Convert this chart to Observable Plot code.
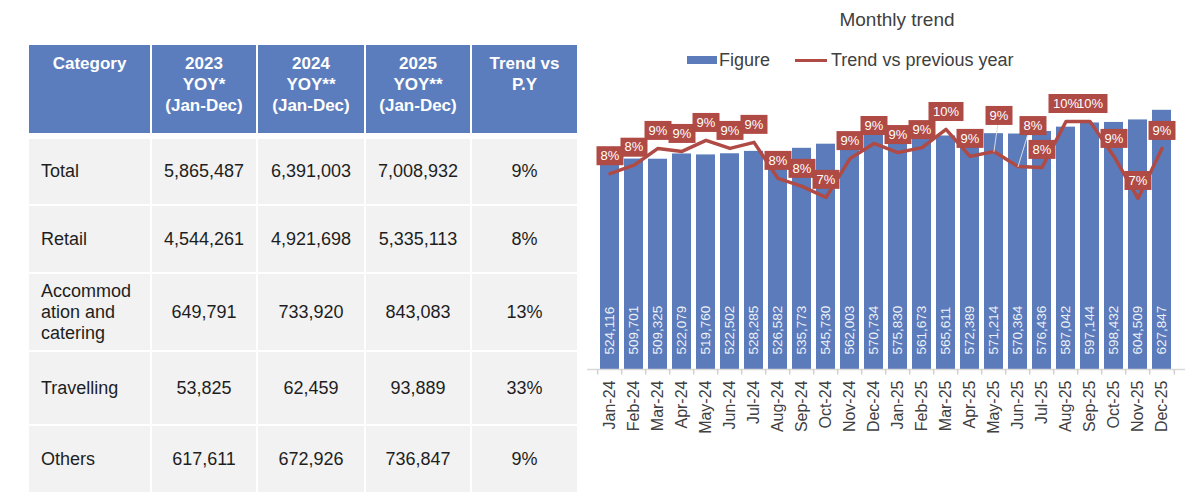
<!DOCTYPE html>
<html><head><meta charset="utf-8">
<script src="https://cdn.jsdelivr.net/npm/d3@7"></script>
<script src="https://cdn.jsdelivr.net/npm/@observablehq/plot@0.6"></script>
<style>
body{margin:0;width:1200px;height:496px;position:relative;background:#fff;font-family:"Liberation Sans",Arial,sans-serif;overflow:hidden}
#table{position:absolute;left:29px;top:45px}
.hdr,.bdy{display:grid;grid-template-columns:121px 104px 106px 104px 105px;column-gap:2px}
.hdr{height:88px}
.hdr div{background:#5b7dbd;color:#fff;font-weight:bold;font-size:17px;line-height:21px;text-align:center;padding-top:8px;box-sizing:border-box}
.bdy{margin-top:6px;row-gap:2px;grid-template-rows:65px 66px 76px 72px 66px}
.bdy div{background:#f2f2f2;display:flex;align-items:center;justify-content:center;font-size:18px;color:#1e1e1e}
.bdy div.cat{justify-content:flex-start;padding:0 12px;box-sizing:border-box}
.bdy div.cat span{display:block;width:100%;line-height:21px;overflow-wrap:anywhere}
#title{position:absolute;top:9px;left:897px;transform:translateX(-50%);font-size:19px;color:#404040;white-space:nowrap}
#legend{position:absolute;top:49px;left:687px;display:flex;align-items:center;font-size:18px;color:#404040;white-space:nowrap;height:22px}
#legend .sw{display:inline-block;width:30px;height:8px;background:#5b7bbb;margin-right:2px}
#legend .ln{display:inline-block;width:32px;height:3px;background:#b04a45;margin-left:25px;margin-right:4px}
#chart{position:absolute;left:580px;top:70px}
</style></head>
<body>
<div id="table"></div>
<div id="title">Monthly trend</div>
<div id="legend"><span class="sw"></span><span>Figure</span><span class="ln"></span><span>Trend vs previous year</span></div>
<div id="chart"></div>
<script>
// ---- Table data ----
const headers = ["Category", "2023<br>YOY*<br>(Jan-Dec)", "2024<br>YOY**<br>(Jan-Dec)", "2025<br>YOY**<br>(Jan-Dec)", "Trend vs<br>P.Y"];
const categories = ["Total", "Retail", "Accommodation and catering", "Travelling", "Others"];
const yoy2023 = [5865487, 4544261, 649791, 53825, 617611];
const yoy2024 = [6391003, 4921698, 733920, 62459, 672926];
const yoy2025 = [7008932, 5335113, 843083, 93889, 736847];
const trendVsPY = [9, 8, 13, 33, 9];

// ---- Chart data ----
const months = ["Jan-24","Feb-24","Mar-24","Apr-24","May-24","Jun-24","Jul-24","Aug-24","Sep-24","Oct-24","Nov-24","Dec-24",
                "Jan-25","Feb-25","Mar-25","Apr-25","May-25","Jun-25","Jul-25","Aug-25","Sep-25","Oct-25","Nov-25","Dec-25"];
const figures = [524116,509701,509325,522079,519760,522502,528285,526582,535773,545730,562003,570734,
                 575830,561673,565611,572389,571214,570364,576436,587042,597144,598432,604509,627847];
const trendPct = [8.11,8.42,9.03,8.92,9.32,9.03,9.25,7.94,7.65,7.25,8.66,9.21,
                  8.88,9.06,9.72,8.74,8.92,8.37,8.34,10.01,10.01,8.74,7.21,9.03];

// ---- Build table ----
const fmt = d3.format(",");
const tbl = document.getElementById("table");
const hdr = document.createElement("div"); hdr.className = "hdr";
headers.forEach(h => { const c = document.createElement("div"); c.innerHTML = h; hdr.appendChild(c); });
tbl.appendChild(hdr);
const bdy = document.createElement("div"); bdy.className = "bdy";
categories.forEach((cat, i) => {
  const c0 = document.createElement("div"); c0.className = "cat";
  const sp = document.createElement("span"); sp.textContent = cat; c0.appendChild(sp); bdy.appendChild(c0);
  [fmt(yoy2023[i]), fmt(yoy2024[i]), fmt(yoy2025[i]), trendVsPY[i] + "%"].forEach(t => {
    const c = document.createElement("div"); c.textContent = t; bdy.appendChild(c);
  });
});
tbl.appendChild(bdy);

// ---- Chart ----
const yMax = 700000;
const secLo = 0.99, secHi = 11.5; // secondary axis domain (percent)
const toU = v => (v - secLo) / (secHi - secLo) * yMax;
const bars = months.map((m, i) => ({month: m, value: figures[i]}));
const trend = months.map((m, i) => ({month: m, u: toU(trendPct[i]), label: Math.round(trendPct[i]) + "%"}));
const special = {"May-25": {dx: 5, dy: -36, len: 28, rot: 8}, "Jun-25": {dx: 15, dy: -41, len: 34, rot: 17}};
const normal = trend.filter(d => !special[d.month]);
const boxSym = w => ({draw(ctx) { ctx.rect(-w / 2, -9.5, w, 19); }});
const tickSym = {draw(ctx) { ctx.moveTo(0, 0); ctx.lineTo(0, 5); }};
const half = 12.35;
const red = "#b04a45";

function labelMarks(data, dx, dy) {
  return [
    Plot.dot(data.filter(d => d.label.length < 3), {x: "month", y: "u", symbol: boxSym(27), fill: red, dx, dy}),
    Plot.dot(data.filter(d => d.label.length >= 3), {x: "month", y: "u", symbol: boxSym(35), fill: red, dx, dy}),
    Plot.text(data, {x: "month", y: "u", text: "label", fill: "white", fontSize: 13, dx, dy})
  ];
}

const marks = [
  Plot.barY(bars, {x: "month", y: "value", fill: "#5b7bbb"}),
  Plot.text(bars, {x: "month", y: 0, text: d => fmt(d.value), rotate: -90, textAnchor: "start", dy: -15, fill: "#eef2f8", fontSize: 13.5}),
  Plot.ruleY([0], {stroke: "#d9d9d9", strokeWidth: 1.5}),
  Plot.dot(months, {x: d => d, y: 0, symbol: tickSym, stroke: "#d0d0d0", dx: -half}),
  Plot.dot(months.slice(-1), {x: d => d, y: 0, symbol: tickSym, stroke: "#d0d0d0", dx: half}),
  Plot.line(trend, {x: "month", y: "u", stroke: red, strokeWidth: 3.5, strokeLinejoin: "round"}),
];
Object.entries(special).forEach(([m, s]) => {
  const d = trend.filter(t => t.month === m);
  marks.push(Plot.vector(d, {x: "month", y: "u", length: s.len, rotate: s.rot, anchor: "start", stroke: "#d7dbe3", strokeWidth: 1,
    shape: {draw(ctx, l) { ctx.moveTo(0, 0); ctx.lineTo(0, -l); }}}));
});
marks.push(...labelMarks(normal, 0, -18));
Object.entries(special).forEach(([m, s]) => {
  marks.push(...labelMarks(trend.filter(t => t.month === m), s.dx, s.dy));
});

const chart = Plot.plot({
  width: 620, height: 426,
  marginLeft: 7, marginRight: 15, marginTop: 10, marginBottom: 127,
  style: {fontFamily: "Liberation Sans, Arial, sans-serif", fontSize: "16px", color: "#404040", background: "transparent"},
  x: {domain: months, padding: 0.2, label: null, tickRotate: -90, tickSize: 0, tickPadding: 11},
  y: {domain: [0, yMax], axis: null},
  marks
});
document.getElementById("chart").appendChild(chart);
</script>
</body></html>
